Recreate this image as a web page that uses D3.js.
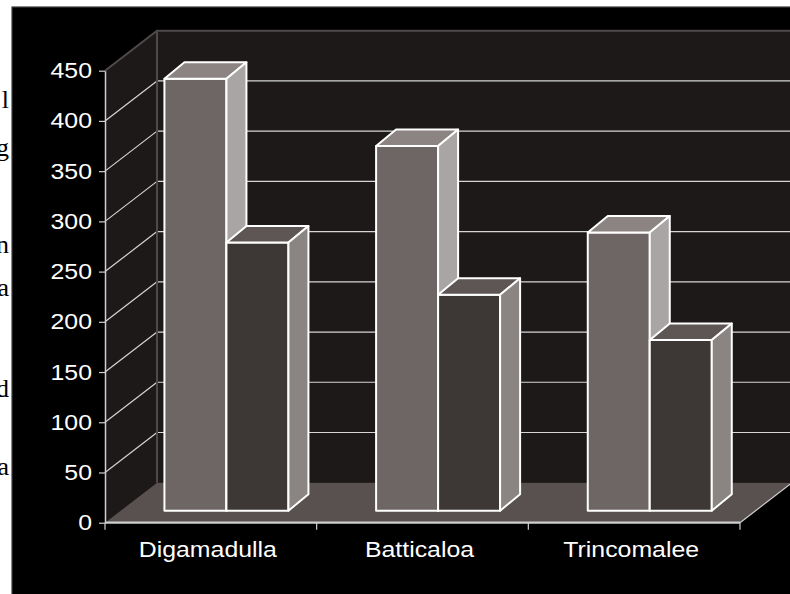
<!DOCTYPE html>
<html>
<head>
<meta charset="utf-8">
<script src="https://cdn.jsdelivr.net/npm/d3@7/dist/d3.min.js"></script>
<style>
  html, body { margin: 0; padding: 0; background: #fff; }
  svg { display: block; }
</style>
</head>
<body>
<svg id="chart" width="790" height="594"></svg>
<script>
const categories = ["Digamadulla", "Batticaloa", "Trincomalee"];
const series1 = [430, 363, 277];
const series2 = [267, 215, 170];
const yTicks = [0, 50, 100, 150, 200, 250, 300, 350, 400, 450];
const marginFragments = [
  { t: "l", y: 108 }, { t: "g", y: 156 }, { t: "n", y: 253 },
  { t: "a", y: 296 }, { t: "d", y: 397 }, { t: "a", y: 475 }
];

const W = 790, H = 594;
const svg = d3.select("#chart");
const FONT = "'Liberation Sans', Arial, sans-serif";
const SX = 1.13; // horizontal stretch of labels

// white page strip with cut-off document text
svg.append("rect").attr("x", 0).attr("y", 0).attr("width", W).attr("height", H).attr("fill", "#fff");
svg.append("clipPath").attr("id", "leftclip").append("rect")
  .attr("x", 0).attr("y", 0).attr("width", 12).attr("height", H);
svg.append("g").attr("clip-path", "url(#leftclip)")
  .selectAll("text").data(marginFragments).join("text")
  .attr("x", 9).attr("y", d => d.y)
  .attr("text-anchor", "end")
  .attr("font-family", "'Liberation Serif', 'Times New Roman', serif")
  .attr("font-size", 26).attr("fill", "#000")
  .text(d => d.t);

// black chart background
svg.append("rect").attr("x", 12).attr("y", 7).attr("width", W).attr("height", H)
  .attr("fill", "#000").attr("stroke", "#3c3c3c").attr("stroke-width", 1.2);

// geometry
const x0 = 105, x1 = 740;
const y = d3.scaleLinear().domain([0, 450]).range([522.7, 70.7]);
const DX = 52, DY = -40;           // wall depth
const bandX = d3.scaleBand().domain(categories).range([x0, x1]).padding(0);
const seriesX = d3.scaleBand().domain(["s1", "s2"]).range([0, 124]);
const groupOffset = (bandX.bandwidth() - 124) / 2;
const BOFF_X = 15.6, BOFF_Y = -12; // bar placement depth
const BDX = 20, BDY = -16.5;       // bar depth

const wallFill = "#1c1918", floorFill = "#58514f", edgeGray = "#4e4a49", gridCol = "#d6d6d6";

const line = (pts) => "M" + pts.map(p => p.join(",")).join("L") + "Z";

// back wall
svg.append("path")
  .attr("d", line([[x0 + DX, y(450) + DY], [W + 10, y(450) + DY], [W + 10, y(0) + DY], [x0 + DX, y(0) + DY]]))
  .attr("fill", wallFill);
// side wall
svg.append("path")
  .attr("d", line([[x0, y(450)], [x0 + DX, y(450) + DY], [x0 + DX, y(0) + DY], [x0, y(0)]]))
  .attr("fill", wallFill);
// floor
svg.append("path")
  .attr("d", line([[x0, y(0)], [x0 + DX, y(0) + DY], [x1 + DX, y(0) + DY], [x1, y(0)]]))
  .attr("fill", floorFill);

// gridlines: back wall horizontal + side wall diagonal
const gridVals = yTicks.filter(v => v > 0 && v < 450);
svg.append("g").selectAll("line.back").data(gridVals).join("line")
  .attr("x1", x0 + DX).attr("x2", W + 10)
  .attr("y1", v => y(v) + DY).attr("y2", v => y(v) + DY)
  .attr("stroke", gridCol).attr("stroke-width", 1.2);
svg.append("g").selectAll("line.side").data(gridVals).join("line")
  .attr("x1", x0).attr("y1", v => y(v))
  .attr("x2", x0 + DX).attr("y2", v => y(v) + DY)
  .attr("stroke", gridCol).attr("stroke-width", 1.2);

// back wall borders
svg.append("path")
  .attr("d", `M${x0},${y(450)}L${x0 + DX},${y(450) + DY}L${W + 10},${y(450) + DY}M${x0 + DX},${y(450) + DY}L${x0 + DX},${y(0) + DY}`)
  .attr("fill", "none").attr("stroke", edgeGray).attr("stroke-width", 2);
// floor right edge
svg.append("line").attr("x1", x1).attr("y1", y(0)).attr("x2", x1 + DX).attr("y2", y(0) + DY)
  .attr("stroke", "#cfcfcf").attr("stroke-width", 1.2);

// bars
const styles = {
  s1: { front: "#6e6665", top: "#8b8482", side: "#a9a5a4" },
  s2: { front: "#3d3836", top: "#5e5654", side: "#8a8583" }
};
const barData = [];
categories.forEach((c, i) => {
  barData.push({ cat: c, s: "s1", v: series1[i] });
  barData.push({ cat: c, s: "s2", v: series2[i] });
});
const bars = svg.append("g").selectAll("g").data(barData).join("g");
bars.each(function (d) {
  const g = d3.select(this);
  const xl = bandX(d.cat) + groupOffset + seriesX(d.s) + BOFF_X;
  const xr = xl + seriesX.bandwidth();
  const yt = y(d.v) + BOFF_Y, yb = y(0) + BOFF_Y;
  const st = styles[d.s];
  const common = (p) => p.attr("stroke", "#fff").attr("stroke-width", 2).attr("stroke-linejoin", "round");
  common(g.append("path").attr("d", line([[xl, yt], [xr, yt], [xr, yb], [xl, yb]])).attr("fill", st.front));
  common(g.append("path").attr("d", line([[xl, yt], [xl + BDX, yt + BDY], [xr + BDX, yt + BDY], [xr, yt]])).attr("fill", st.top));
  common(g.append("path").attr("d", line([[xr, yt], [xr + BDX, yt + BDY], [xr + BDX, yb + BDY], [xr, yb]])).attr("fill", st.side));
});

// y axis
const yAxis = svg.append("g").attr("transform", `translate(${x0},0)`)
  .call(d3.axisLeft(y).tickValues(yTicks).tickSize(6).tickPadding(7).tickSizeOuter(0));
yAxis.select(".domain").attr("stroke", "#d0d0d0").attr("stroke-width", 1.5);
yAxis.selectAll(".tick line").attr("stroke", "#d0d0d0").attr("stroke-width", 1.2);
yAxis.selectAll(".tick text")
  .attr("fill", "#fff").attr("font-family", FONT).attr("font-size", 22)
  .attr("x", -13 / SX).attr("transform", `scale(${SX},1)`);

// floor front edge & category boundary ticks
svg.append("line").attr("x1", x0).attr("x2", x1).attr("y1", y(0)).attr("y2", y(0))
  .attr("stroke", "#cfcfcf").attr("stroke-width", 2.2);
const bounds = categories.map(c => bandX(c)).concat([x1]);
svg.append("g").selectAll("line").data(bounds).join("line")
  .attr("x1", d => d).attr("x2", d => d)
  .attr("y1", y(0)).attr("y2", y(0) + 7)
  .attr("stroke", "#d0d0d0").attr("stroke-width", 1.2);

// x axis labels
const xAxis = svg.append("g").attr("transform", `translate(0,${y(0)})`)
  .call(d3.axisBottom(bandX).tickSize(0).tickPadding(0));
xAxis.select(".domain").remove();
xAxis.selectAll(".tick text")
  .attr("fill", "#fff").attr("font-family", FONT).attr("font-size", 22)
  .attr("y", 34).attr("dy", 0)
  .attr("transform", `scale(${SX},1)`);
xAxis.selectAll(".tick").each(function () {
  const t = d3.select(this);
  const tr = t.attr("transform");
  const m = /translate\(([-\d.]+),/.exec(tr);
  const cx = +m[1];
  t.attr("transform", `translate(${cx - 3},0)`);
  t.select("text").attr("x", 0).attr("transform", `scale(${SX},1)`);
});
</script>
</body>
</html>
